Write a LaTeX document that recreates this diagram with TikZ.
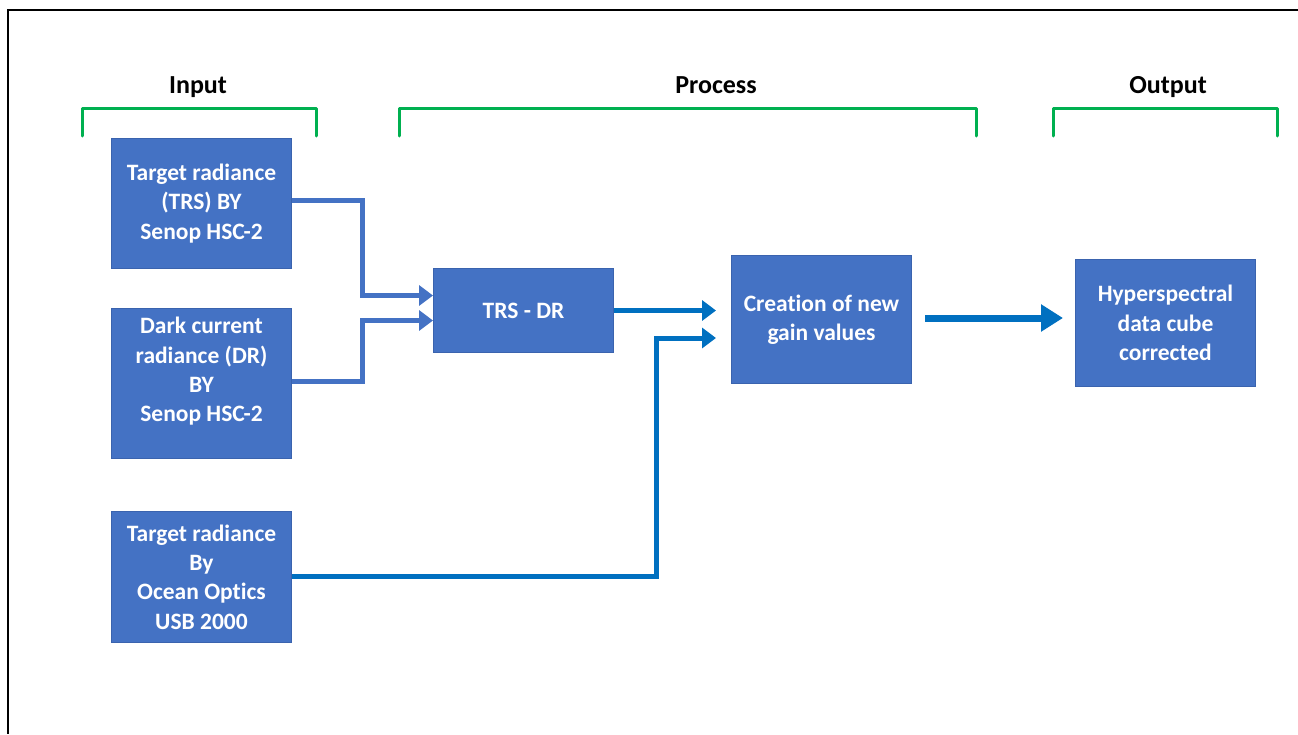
\documentclass[tikz,border=0pt]{standalone}
\usepackage{fontspec}
\setmainfont[Ligatures=NoCommon]{Carlito}
\usetikzlibrary{arrows.meta}
\definecolor{boxblue}{HTML}{4472C4}
\definecolor{boxedge}{HTML}{3A63AE}
\definecolor{arrblue}{HTML}{4472C4}
\definecolor{arrblue2}{HTML}{0070C0}
\definecolor{brgreen}{HTML}{00B050}
\begin{document}
\begin{tikzpicture}[x=1pt,y=-1pt,
  blk/.style={draw=boxedge,line width=1pt,fill=boxblue,text=white,font=\bfseries\fontsize{23.5}{29.3}\selectfont,align=center,inner sep=0pt,anchor=north west},
  hdr/.style={font=\bfseries\fontsize{26}{30}\selectfont,text=black,anchor=base},
  brk/.style={draw=brgreen,line width=3pt,line cap=round,line join=round},
  conn/.style={draw=arrblue,line width=5pt,-{Triangle[length=14pt,width=20pt]}},
  conn2/.style={draw=arrblue2,line width=5pt,-{Triangle[length=14pt,width=20pt]}},
  bigarr/.style={draw=arrblue2,line width=7pt,-{Triangle[length=22pt,width=26pt]}}]
\useasboundingbox (0,0) rectangle (1298,734);
% frame
\draw[line width=2pt] (1298,10) -- (8,10) -- (8,734);
% headers
\node[hdr] (hin) at (198,93) {Input};
\node[hdr] (hpr) at (716,93) {Process};
\node[hdr] (hout) at (1168,93) {Output};
% brackets
\draw[brk] (82,136) -- (82,108) -- (316,108) -- (316,136);
\draw[brk] (399,136) -- (399,108) -- (976,108) -- (976,136);
\draw[brk] (1053,136) -- (1053,108) -- (1277,108) -- (1277,136);
% boxes
\node[blk,minimum width=180pt,minimum height=130pt] (b1) at (111,138) {Target radiance\\(TRS) BY\\Senop HSC-2};
\node[blk,minimum width=180pt,minimum height=150pt] (b2) at (111,308) {Dark current\\radiance (DR)\\BY\\Senop HSC-2\\[-1.3pt]};
\node[blk,minimum width=180pt,minimum height=131pt] (b3) at (111,511) {Target radiance\\By\\Ocean Optics\\USB 2000};
\node[blk,minimum width=180pt,minimum height=84pt] (trs) at (433,268) {TRS - DR};
\node[blk,minimum width=180pt,minimum height=128pt] (cre) at (731,255) {Creation of new\\gain values};
\node[blk,minimum width=180pt,minimum height=127pt] (hyp) at (1075,259) {Hyperspectral\\data cube\\corrected};
% connectors
\coordinate (j1) at (362,200);
\coordinate (j2) at (362,381);
\coordinate (j3) at (656,576);
\draw[conn] (b1.east |- j1) -- (j1) |- ([yshift=15pt]trs.west);
\draw[conn] (b2.east |- j2) -- (j2) |- ([yshift=-10pt]trs.west);
\draw[conn2] (trs.east) -- ([xshift=-15pt]cre.west |- trs.east);
\draw[conn2] (b3.east |- j3) -- (j3) |- ([xshift=-15pt]cre.west |- 0,338);
\draw[bigarr] ([xshift=13pt]cre.east |- 0,318) -- ([xshift=-12pt]hyp.west |- 0,318);
\end{tikzpicture}
\end{document}
